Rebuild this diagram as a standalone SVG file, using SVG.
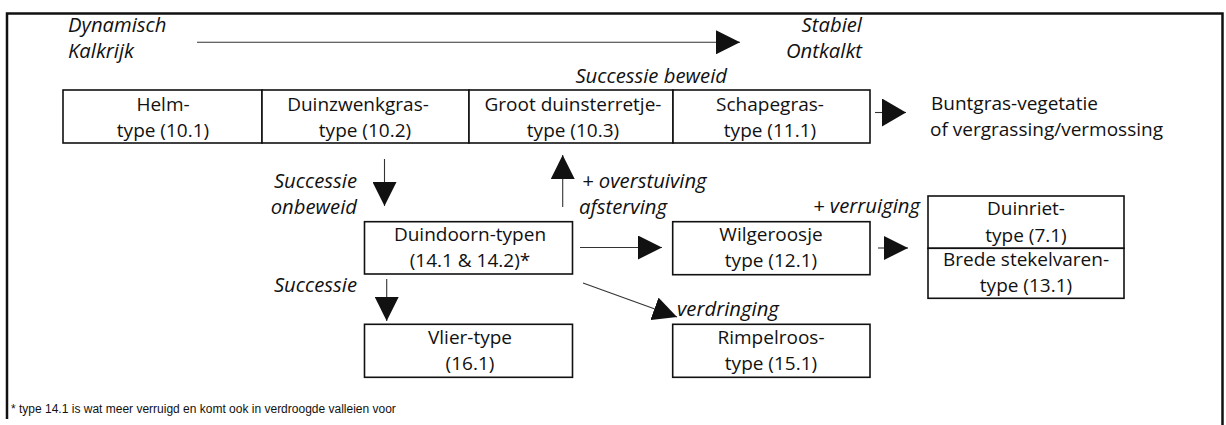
<svg xmlns="http://www.w3.org/2000/svg" width="1226" height="425" viewBox="0 0 1226 425">
<style>
  .bg { fill: #ffffff; }
  .frame { fill: none; stroke: #111; stroke-width: 2.5; }
  .box { fill: #ffffff; stroke: #111; stroke-width: 1.6; }
  .t { font-family: "Open Sans", "Liberation Sans", sans-serif; font-size: 19px; fill: #111; }
  .c { text-anchor: middle; }
  .i { font-style: italic; font-size: 20.3px; }
  .e { text-anchor: end; }
  .fn { font-family: "Liberation Sans", Arial, sans-serif; font-size: 12px; fill: #111; }
  .con { stroke: #333; stroke-width: 1.1; fill: none; marker-end: url(#tri); }
</style>
<defs>
  <marker id="tri" markerUnits="userSpaceOnUse" markerWidth="24" markerHeight="24" refX="24" refY="12" orient="auto" viewBox="0 0 24 24">
    <path d="M0,0 L24,12 L0,24 Z" fill="#111"/>
  </marker>
  <marker id="triTall" markerUnits="userSpaceOnUse" markerWidth="24" markerHeight="28" refX="24" refY="14" orient="auto" viewBox="0 0 24 28">
    <path d="M0,0 L24,14 L0,28 Z" fill="#111"/>
  </marker>
</defs>
<rect class="bg" x="0" y="0" width="1226" height="425"/>
<path class="frame" d="M7,419 V13.5 H1222.5 V425"/>

<g id="labels">
  <text class="t i" x="68" y="32">Dynamisch</text>
  <text class="t i" x="68" y="58">Kalkrijk</text>
  <text class="t i e" x="862" y="32">Stabiel</text>
  <text class="t i e" x="862" y="58">Ontkalkt</text>
  <text class="t i e" x="727" y="83">Successie beweid</text>
  <text class="t i e" x="357" y="188">Successie</text>
  <text class="t i e" x="357" y="214">onbeweid</text>
  <text class="t i" x="582" y="188">+ overstuiving</text>
  <text class="t i" x="579" y="214">afsterving</text>
  <text class="t i e" x="920" y="213">+ verruiging</text>
  <text class="t i e" x="357" y="292">Successie</text>
  <text class="t i" x="677" y="316">verdringing</text>
  <text class="fn" x="11" y="413">* type 14.1 is wat meer verruigd en komt ook in verdroogde valleien voor</text>
</g>

<g id="connectors">
  <line class="con" x1="197" y1="42.3" x2="740" y2="42.3"/>
  <line class="con" x1="875" y1="112.5" x2="906" y2="112.5" style="marker-end:url(#triTall)"/>
  <line class="con" x1="384.5" y1="159" x2="384.5" y2="206"/>
  <line class="con" x1="562.7" y1="207" x2="562.7" y2="155"/>
  <line class="con" x1="580" y1="247.5" x2="662" y2="247.5"/>
  <line class="con" x1="878" y1="248" x2="908" y2="248"/>
  <line class="con" x1="386.7" y1="279" x2="386.7" y2="321"/>
  <line class="con" x1="583" y1="283" x2="677" y2="317"/>
</g>

<g id="helm">
  <rect class="box" x="63" y="90" width="199" height="53"/>
  <text class="t c" x="163" y="110.5">Helm-</text>
  <text class="t c" x="163" y="136.5">type (10.1)</text>
</g>
<g id="duinzwenkgras">
  <rect class="box" x="262" y="90" width="207" height="53"/>
  <text class="t c" x="358" y="110.5">Duinzwenkgras-</text>
  <text class="t c" x="365" y="136.5">type (10.2)</text>
</g>
<g id="groot-duinsterretje">
  <rect class="box" x="469" y="90" width="204" height="53"/>
  <text class="t c" x="573" y="110.5">Groot duinsterretje-</text>
  <text class="t c" x="573" y="136.5">type (10.3)</text>
</g>
<g id="schapegras">
  <rect class="box" x="673" y="90" width="197" height="53"/>
  <text class="t c" x="770" y="110.5">Schapegras-</text>
  <text class="t c" x="770" y="136.5">type (11.1)</text>
</g>
<g id="buntgras">
  <text class="t" x="931" y="110">Buntgras-vegetatie</text>
  <text class="t" x="930" y="136">of vergrassing/vermossing</text>
</g>
<g id="duindoorn">
  <rect class="box" x="364.5" y="221.7" width="208" height="52.3"/>
  <text class="t c" x="470" y="240.7">Duindoorn-typen</text>
  <text class="t c" x="470" y="266.7">(14.1 &amp; 14.2)*</text>
</g>
<g id="wilgeroosje">
  <rect class="box" x="672.7" y="221.7" width="197.3" height="53"/>
  <text class="t c" x="771" y="241">Wilgeroosje</text>
  <text class="t c" x="771" y="267">type (12.1)</text>
</g>
<g id="duinriet">
  <rect class="box" x="928" y="196" width="196" height="52.3"/>
  <text class="t c" x="1026" y="215">Duinriet-</text>
  <text class="t c" x="1026" y="241.5">type (7.1)</text>
</g>
<g id="brede-stekelvaren">
  <rect class="box" x="928" y="248.3" width="196" height="50"/>
  <text class="t c" x="1026" y="266">Brede stekelvaren-</text>
  <text class="t c" x="1026" y="292">type (13.1)</text>
</g>
<g id="vlier">
  <rect class="box" x="364.5" y="324.3" width="208" height="53"/>
  <text class="t c" x="470" y="344">Vlier-type</text>
  <text class="t c" x="470" y="370">(16.1)</text>
</g>
<g id="rimpelroos">
  <rect class="box" x="672.7" y="324.3" width="197.3" height="53"/>
  <text class="t c" x="771" y="344">Rimpelroos-</text>
  <text class="t c" x="771" y="370">type (15.1)</text>
</g>
</svg>
